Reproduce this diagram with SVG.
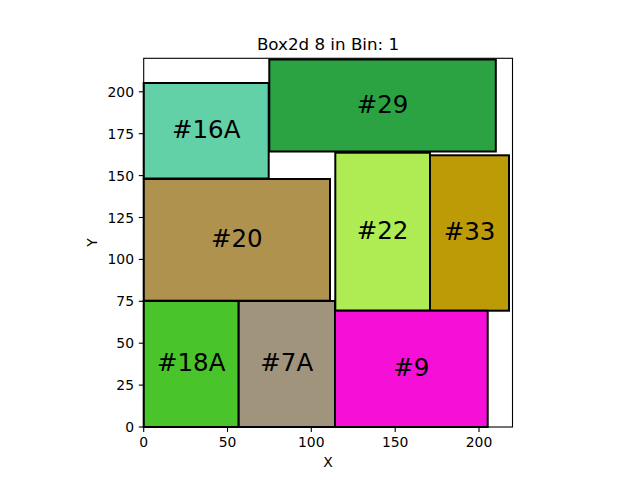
<svg xmlns="http://www.w3.org/2000/svg" width="640" height="480" viewBox="0 0 640 480">
<style>
text{font-family:"DejaVu Sans",sans-serif;fill:#000}
.box{stroke:#000;stroke-width:2}
.lbl{font-size:24.5px;text-anchor:middle}
.tk{font-size:13.9px}
.tx{text-anchor:middle}
.ty{text-anchor:end}
.tick{stroke:#000;stroke-width:1.1}
</style>
<rect width="640" height="480" fill="#fff"/>
<rect x="143.7" y="58.3" width="368.8" height="368.7" fill="#fff"/>
<g id="n16A"><rect class="box" x="143.7" y="83" width="125" height="95.5" fill="#63d1a7"/><text class="lbl" x="206.2" y="138">#16A</text></g>
<g id="n29"><rect class="box" x="269.3" y="59.5" width="226.5" height="92" fill="#2ba343"/><text class="lbl" x="382.5" y="112.8">#29</text></g>
<g id="n22"><rect class="box" x="335.3" y="152.7" width="94.7" height="158" fill="#afeb53"/><text class="lbl" x="382.6" y="239">#22</text></g>
<g id="n33"><rect class="box" x="430" y="155.3" width="79" height="155.4" fill="#bd9b06"/><text class="lbl" x="469.5" y="240.3">#33</text></g>
<g id="n20"><rect class="box" x="143.7" y="179" width="186.3" height="121.7" fill="#b0924f"/><text class="lbl" x="236.8" y="247.2">#20</text></g>
<g id="n18A"><rect class="box" x="143.7" y="301" width="95" height="126" fill="#4ac42b"/><text class="lbl" x="191.2" y="371.3">#18A</text></g>
<g id="n7A"><rect class="box" x="238.7" y="301" width="96.3" height="126" fill="#a0947d"/><text class="lbl" x="286.8" y="371.3">#7A</text></g>
<g id="n9"><rect class="box" x="335" y="310.7" width="152.7" height="116.3" fill="#f50fd7"/><text class="lbl" x="411.3" y="376.2">#9</text></g>
<g id="connectors"></g>
<g id="axes">
<rect x="143.7" y="58.3" width="368.8" height="368.7" fill="none" stroke="#000" stroke-width="1.1"/>
<g class="tick">
<line x1="143.7" y1="427" x2="143.7" y2="431.9"/>
<line x1="227.5" y1="427" x2="227.5" y2="431.9"/>
<line x1="311.3" y1="427" x2="311.3" y2="431.9"/>
<line x1="395.2" y1="427" x2="395.2" y2="431.9"/>
<line x1="479" y1="427" x2="479" y2="431.9"/>
<line x1="138.8" y1="427" x2="143.7" y2="427"/>
<line x1="138.8" y1="385.1" x2="143.7" y2="385.1"/>
<line x1="138.8" y1="343.2" x2="143.7" y2="343.2"/>
<line x1="138.8" y1="301.3" x2="143.7" y2="301.3"/>
<line x1="138.8" y1="259.4" x2="143.7" y2="259.4"/>
<line x1="138.8" y1="217.5" x2="143.7" y2="217.5"/>
<line x1="138.8" y1="175.6" x2="143.7" y2="175.6"/>
<line x1="138.8" y1="133.7" x2="143.7" y2="133.7"/>
<line x1="138.8" y1="91.8" x2="143.7" y2="91.8"/>
</g>
<g class="tk tx">
<text x="143.7" y="447">0</text>
<text x="227.5" y="447">50</text>
<text x="311.3" y="447">100</text>
<text x="395.2" y="447">150</text>
<text x="479" y="447">200</text>
</g>
<g class="tk ty">
<text x="134" y="432">0</text>
<text x="134" y="390.1">25</text>
<text x="134" y="348.2">50</text>
<text x="134" y="306.3">75</text>
<text x="134" y="264.4">100</text>
<text x="134" y="222.5">125</text>
<text x="134" y="180.6">150</text>
<text x="134" y="138.7">175</text>
<text x="134" y="96.8">200</text>
</g>
<text class="tk tx" x="328" y="467">X</text>
<text class="tk tx" transform="translate(96.5,242.6) rotate(-90)">Y</text>
<text x="328" y="49.5" style="font-size:16.7px;text-anchor:middle">Box2d 8 in Bin: 1</text>
</g>
</svg>
